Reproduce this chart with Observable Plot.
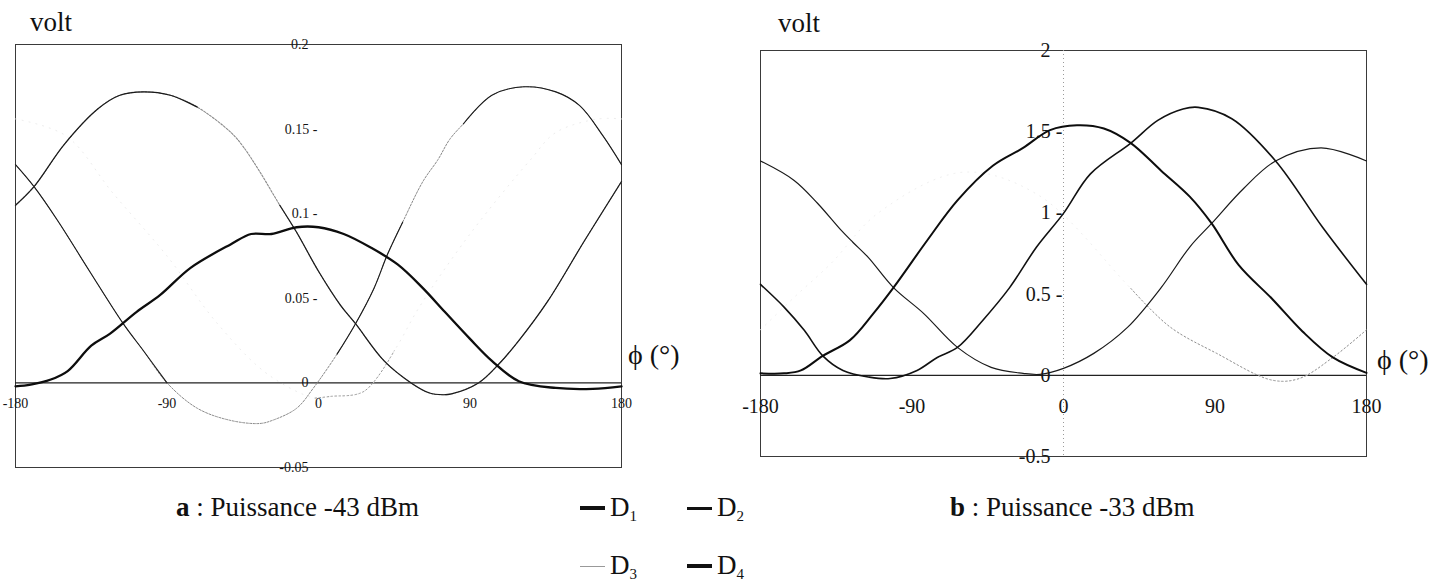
<!DOCTYPE html>
<html>
<head>
<meta charset="utf-8">
<script src="https://cdn.jsdelivr.net/npm/d3@7"></script>
<script src="https://cdn.jsdelivr.net/npm/@observablehq/plot@0.6"></script>
<style>
  body { margin: 0; background: #fff; }
  #fig { position: relative; width: 1453px; height: 587px; overflow: hidden;
         font-family: "Liberation Serif", "Times New Roman", Times, "DejaVu Serif", serif; color: #111; }
  #fig svg { position: absolute; top: 0; }
  .t { position: absolute; white-space: nowrap; line-height: 1; }
  .dash { position: absolute; background: #111; }
  sub { font-size: 15px; vertical-align: -5px; line-height: 0; }
</style>
</head>
<body>
<div id="fig"></div>
<script>
// phase axis (degrees)
const phiTicks = [-180, -90, 0, 90, 180];
const phiTickLabels = ["-180", "-90", "0", "90", "180"];

// panel a : -43 dBm  (volts)
const aYTicks = [-0.05, 0, 0.05, 0.1, 0.15, 0.2];
const aYTickLabels = ["-0.05", "0", "0.05", "0.1", "0.15", "0.2"];

const aPhi1 = [-180,-171,-159,-149,-135,-124,-108,-94,-76,-52,-40,-28,-13,0,15,31,47,62,75,90,103,119,141,163,180];
const aD1   = [-0.002,-0.001,0.002,0.007,0.022,0.029,0.042,0.052,0.068,0.082,0.088,0.088,0.092,0.092,0.088,0.080,0.070,0.056,0.042,0.026,0.013,0.001,-0.003,-0.0035,-0.002];

const aPhi2 = [-180,-169,-151,-131,-118,-104,-88,-72,-52,-45,-35,-23,-13,0,13,22,39,55,66,74,79,95,107,119,136,158,180];
const aD2   = [0.105,0.116,0.141,0.162,0.170,0.172,0.170,0.163,0.148,0.140,0.125,0.105,0.089,0.066,0.046,0.035,0.013,0.000,-0.006,-0.007,-0.0065,0.000,0.011,0.025,0.048,0.084,0.119];

const aPhi3 = [-180,-150,-122,-90,-60,-30,-2,7,27,45,60,90,126,141,166,180];
const aD3   = [0.156,0.146,0.112,0.075,0.035,0.005,-0.009,-0.008,-0.005,0.019,0.045,0.088,0.132,0.148,0.156,0.156];

const aPhi4 = [-180,-169,-155,-136,-116,-104,-90,-72,-53,-35,-27,-13,-3,11,22,33,41,50,62,71,78,86,103,122,141,155,169,180];
const aD4   = [0.129,0.116,0.096,0.066,0.035,0.019,0.000,-0.015,-0.022,-0.024,-0.022,-0.015,-0.003,0.017,0.035,0.056,0.076,0.095,0.119,0.132,0.144,0.153,0.170,0.175,0.172,0.164,0.146,0.129];

// panel b : -33 dBm  (volts)
const bYTicks = [-0.5, 0, 0.5, 1, 1.5, 2];
const bYTickLabels = ["-0.5", "0", "0.5", "1", "1.5", "2"];

const bPhi1 = [-180,-166,-156,-143,-127,-113,-101,-81,-63,-42,-24,-8,8,24,40,58,75,88,104,124,142,160,180];
const bD1   = [0.012,0.012,0.03,0.12,0.215,0.38,0.54,0.83,1.077,1.29,1.40,1.51,1.54,1.52,1.43,1.26,1.10,0.935,0.68,0.47,0.27,0.11,0.015];

const bPhi2 = [-180,-160,-146,-132,-125,-116,-101,-83,-63,-43,-24,-14,0,18,38,58,75,88,107,126,153,180];
const bD2   = [1.32,1.2,1.058,0.892,0.818,0.726,0.54,0.38,0.172,0.049,0.012,0.006,0.043,0.135,0.295,0.54,0.79,0.935,1.15,1.32,1.40,1.32];

const bPhi3 = [-180,-160,-138,-110,-60,-15,40,63,91,124,140,160,180];
const bD3   = [0.28,0.48,0.69,1.0,1.25,1.11,0.535,0.3,0.135,-0.03,-0.02,0.11,0.28];

const bPhi4 = [-180,-166,-154,-143,-131,-116,-103,-87,-75,-63,-48,-32,-16,0,16,40,56,71,80,100,126,154,180];
const bD4   = [0.56,0.42,0.277,0.12,0.03,-0.01,-0.02,0.03,0.11,0.172,0.338,0.54,0.79,0.997,1.24,1.43,1.57,1.64,1.65,1.58,1.32,0.91,0.56];

const seriesNames = ["D1", "D2", "D3", "D4"];
const captions = ["Puissance -43 dBm", "Puissance -33 dBm"];

// ---------------------------------------------------------------
const serif = '"Liberation Serif", "Times New Roman", Times, "DejaVu Serif", serif';
const rows = (phi, v) => phi.map((p, i) => ({phi: p, v: v[i]}));
// keep only the points where `keep` holds; the others become gaps
const part = (data, keep) => data.map(d => ({phi: d.phi, v: keep(d.phi) ? d.v : NaN}));
const curve = "catmull-rom";

function tickMarks(ticks, labels, domain, size, plainDx) {
  const all = ticks.map((t, i) => ({t, label: labels[i]}));
  const inner = all.filter(d => d.t !== 0 && d.t !== domain[0] && d.t !== domain[1]);
  const plain = all.filter(d => !inner.includes(d));
  return [
    Plot.text(inner, {x: 0, y: "t", text: d => d.label + " -", textAnchor: "end", dx: -1, fontSize: size, fill: "#151515"}),
    Plot.text(plain, {x: 0, y: "t", text: "label", textAnchor: "end", dx: plainDx, fontSize: size, fill: "#151515"})
  ];
}

// panel a
const a1 = rows(aPhi1, aD1), a2 = rows(aPhi2, aD2), a3 = rows(aPhi3, aD3), a4 = rows(aPhi4, aD4);
const aDomain = [-0.05, 0.2];
const chartA = Plot.plot({
  width: 727, height: 487,
  marginTop: 44, marginBottom: 20, marginLeft: 15, marginRight: 106,
  x: {domain: [-180, 180], axis: null},
  y: {domain: aDomain, axis: null},
  style: {fontFamily: serif, background: "transparent", overflow: "visible"},
  marks: [
    Plot.frame({stroke: "#3a3a3a", strokeWidth: 1}),
    Plot.ruleY([0], {stroke: "#222", strokeWidth: 1.1}),
    Plot.text(phiTicks, {x: d => d, y: 0, text: (d, i) => phiTickLabels[i], dy: 21, fontSize: 14, fill: "#151515"}),
    ...tickMarks(aYTicks, aYTickLabels, aDomain, 14, -10),
    // D3 : barely printed trace, visible only near its minimum
    Plot.line(a3, {x: "phi", y: "v", curve, stroke: "#ececec", strokeWidth: 1, strokeDasharray: "1,6"}),
    Plot.line(part(a3, p => p >= -5 && p <= 50), {x: "phi", y: "v", curve, stroke: "#9a9a9a", strokeWidth: 1, strokeDasharray: "1.5,2.5"}),
    // D4
    Plot.line(a4, {x: "phi", y: "v", curve, stroke: "#8a8a8a", strokeWidth: 1, strokeDasharray: "2,1.5"}),
    Plot.line(part(a4, p => p <= -90 || (p >= 0 && p <= 50) || p >= 86), {x: "phi", y: "v", curve, stroke: "#1a1a1a", strokeWidth: 1.1}),
    // D2
    Plot.line(a2, {x: "phi", y: "v", curve, stroke: "#8a8a8a", strokeWidth: 1.1, strokeDasharray: "2,1.5"}),
    Plot.line(part(a2, p => p <= -72 || p >= -23), {x: "phi", y: "v", curve, stroke: "#1a1a1a", strokeWidth: 1.2}),
    // D1
    Plot.line(a1, {x: "phi", y: "v", curve, stroke: "#0d0d0d", strokeWidth: 2.3})
  ]
});
chartA.style.left = "0px";

// panel b
const b1 = rows(bPhi1, bD1), b2 = rows(bPhi2, bD2), b3 = rows(bPhi3, bD3), b4 = rows(bPhi4, bD4);
const bDomain = [-0.5, 2];
const chartB = Plot.plot({
  width: 726, height: 476,
  marginTop: 50, marginBottom: 20, marginLeft: 33, marginRight: 87,
  x: {domain: [-180, 180], axis: null},
  y: {domain: bDomain, axis: null},
  style: {fontFamily: serif, background: "transparent", overflow: "visible"},
  marks: [
    Plot.frame({stroke: "#3a3a3a", strokeWidth: 1}),
    Plot.ruleX([0], {stroke: "#9a9a9a", strokeWidth: 1, strokeDasharray: "1,3"}),
    Plot.ruleY([0], {stroke: "#222", strokeWidth: 1.3}),
    Plot.text(phiTicks, {x: d => d, y: 0, text: (d, i) => phiTickLabels[i], dy: 31, fontSize: 20, fill: "#151515"}),
    ...tickMarks(bYTicks, bYTickLabels, bDomain, 20, -13),
    // D3 : barely printed trace, visible only on the right half
    Plot.line(b3, {x: "phi", y: "v", curve, stroke: "#efefef", strokeWidth: 1, strokeDasharray: "1,6"}),
    Plot.line(part(b3, p => p >= 40), {x: "phi", y: "v", curve, stroke: "#8f8f8f", strokeWidth: 1, strokeDasharray: "1.5,2.5"}),
    // D2, D4, D1
    Plot.line(b2, {x: "phi", y: "v", curve, stroke: "#1a1a1a", strokeWidth: 1.2}),
    Plot.line(b4, {x: "phi", y: "v", curve, stroke: "#111", strokeWidth: 1.6}),
    Plot.line(b1, {x: "phi", y: "v", curve, stroke: "#0d0d0d", strokeWidth: 2.0})
  ]
});
chartB.style.left = "727px";

const fig = document.getElementById("fig");
fig.append(chartA, chartB);

// text placed by baseline
function label(html, left, baseline, size) {
  const el = document.createElement("div");
  el.className = "t";
  el.innerHTML = html;
  el.style.left = left + "px";
  el.style.top = (baseline - 0.8375 * size) + "px";
  el.style.fontSize = size + "px";
  fig.append(el);
  return el;
}
function dash(left, y, w, h, color) {
  const el = document.createElement("div");
  el.className = "dash";
  Object.assign(el.style, {left: left + "px", top: (y - h / 2) + "px", width: w + "px", height: h + "px", background: color});
  fig.append(el);
}

label("volt", 30, 32, 27);
label("volt", 778, 33, 27);
label("&#981; (&deg;)", 628, 364, 28);
label("&#981; (&deg;)", 1377, 369, 28);

label("<b>a</b> : " + captions[0], 176, 517, 27);
label("<b>b</b> : " + captions[1], 950, 517, 27);

// legend
const legendItems = [
  {name: seriesNames[0], x: 580, base: 517, w: 25, h: 4, color: "#111"},
  {name: seriesNames[1], x: 687, base: 517, w: 25, h: 3, color: "#111"},
  {name: seriesNames[2], x: 580, base: 575, w: 25, h: 1, color: "#999"},
  {name: seriesNames[3], x: 687, base: 575, w: 25, h: 4, color: "#111"}
];
for (const it of legendItems) {
  dash(it.x, it.base - 9, it.w, it.h, it.color);
  label(it.name[0] + "<sub>" + it.name.slice(1) + "</sub>", it.x + 30, it.base, 27);
}
</script>
</body>
</html>
